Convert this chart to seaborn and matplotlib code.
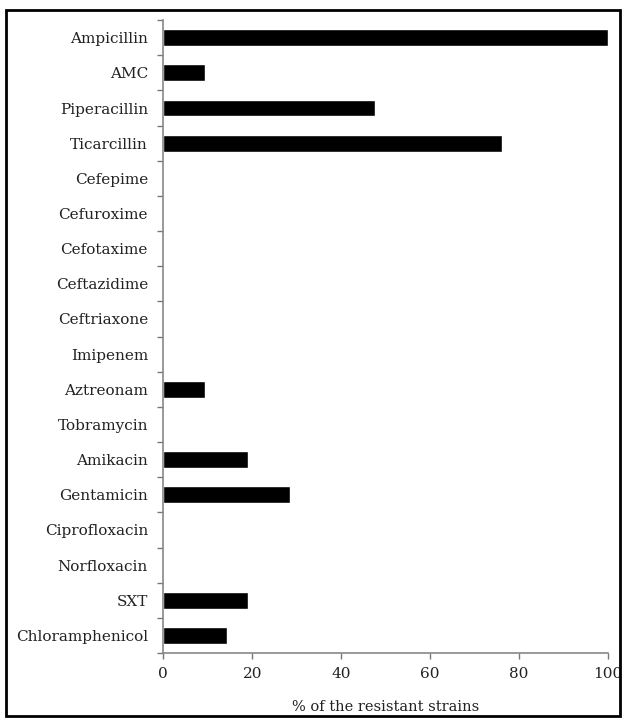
import seaborn as sns
import pandas as pd
import matplotlib.pyplot as plt
from matplotlib.patches import Rectangle

# antibiotics, top to bottom
drugs = ['Ampicillin', 'AMC', 'Piperacillin', 'Ticarcillin', 'Cefepime',
         'Cefuroxime', 'Cefotaxime', 'Ceftazidime', 'Ceftriaxone', 'Imipenem',
         'Aztreonam', 'Tobramycin', 'Amikacin', 'Gentamicin', 'Ciprofloxacin',
         'Norfloxacin', 'SXT', 'Chloramphenicol']
# % of resistant strains
resistant = [100, 9.5, 47.6, 76.2, 0, 0, 0, 0, 0, 0,
             9.5, 0, 19.0, 28.6, 0, 0, 19.0, 14.3]

df = pd.DataFrame({'drug': drugs, 'pct': resistant})

sns.set_style('ticks')
plt.rcParams['font.family'] = ['DejaVu Serif']

fig = plt.figure(figsize=(6.23, 7.18), dpi=100)
ax = fig.add_axes([0.262, 0.0905, 0.714, 0.8815])

sns.barplot(data=df, x='pct', y='drug', orient='h', color='black',
            width=0.48, saturation=1, ax=ax)

ax.set_xlim(0, 100)
ax.set_ylim(len(drugs) - 0.5, -0.5)
ax.set_xticks([0, 20, 40, 60, 80, 100])
ax.set_xlabel('% of the resistant strains', fontsize=10.5, color='#222222', labelpad=14)
ax.set_ylabel('')

ax.set_yticks(range(len(drugs)))
ax.set_yticklabels(drugs)
ax.set_yticks([i - 0.5 for i in range(len(drugs) + 1)], minor=True)
ax.tick_params(axis='y', which='major', length=0, pad=11, labelsize=11, labelcolor='#222222')
ax.tick_params(axis='y', which='minor', length=4, width=1, color='#777777', direction='out')
ax.tick_params(axis='x', length=4, width=1, color='#777777', labelsize=11,
               labelcolor='#222222', pad=6)

sns.despine(ax=ax)
for s in ['left', 'bottom']:
    ax.spines[s].set_color('#888888')
    ax.spines[s].set_linewidth(1.2)

# frame around the whole picture
fig.patches.append(Rectangle((6 / 623, 2 / 718), 614 / 623, 706 / 718,
                             transform=fig.transFigure, fill=False,
                             edgecolor='black', linewidth=2))

plt.savefig('out.png', dpi=100)
